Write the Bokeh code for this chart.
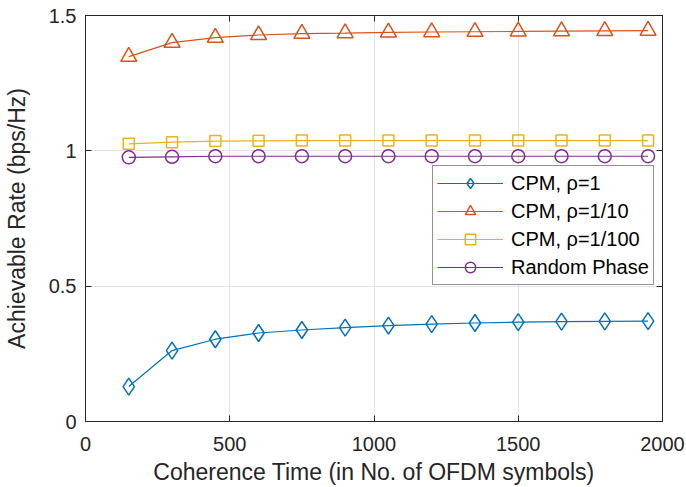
from bokeh.plotting import figure
from bokeh.models import (FixedTicker, Legend, LegendItem, LinearAxis, Range1d)
from bokeh.embed import file_html
from bokeh.resources import INLINE

# ---- data ----
coherence_time = [150, 300, 450, 600, 750, 900, 1050, 1200, 1350, 1500, 1650, 1800, 1950]
rate_rho_1 = [0.129, 0.262, 0.304, 0.327, 0.338, 0.347, 0.354, 0.360, 0.364, 0.367, 0.369, 0.370, 0.371]
rate_rho_1_10 = [1.348, 1.400, 1.418, 1.428, 1.433, 1.435, 1.438, 1.439, 1.440, 1.441, 1.442, 1.443, 1.444]
rate_rho_1_100 = [1.026, 1.032, 1.036, 1.037, 1.038, 1.038, 1.038, 1.038, 1.038, 1.038, 1.038, 1.038, 1.038]
rate_random = [0.976, 0.978, 0.980, 0.980, 0.980, 0.980, 0.980, 0.980, 0.980, 0.980, 0.980, 0.980, 0.980]
series_labels = ["CPM, \u03c1=1", "CPM, \u03c1=1/10", "CPM, \u03c1=1/100", "Random Phase"]
x_ticks = [0, 500, 1000, 1500, 2000]
x_tick_labels = ["0", "500", "1000", "1500", "2000"]
y_ticks = [0, 0.5, 1, 1.5]
y_tick_labels = ["0", "0.5", "1", "1.5"]

FONT = "Liberation Sans"
AX = "#262626"

p = figure(width=686, height=487, output_backend="svg", toolbar_location=None,
           x_range=Range1d(0, 2000), y_range=Range1d(0, 1.5),
           min_border_left=82, min_border_right=24, min_border_top=15, min_border_bottom=64)
p.background_fill_color = "white"
p.border_fill_color = "white"
p.outline_line_color = AX
p.outline_line_width = 1

for ax in (p.xaxis[0], p.yaxis[0]):
    ax.axis_line_color = AX
    ax.major_tick_line_color = AX
    ax.major_tick_in = 6
    ax.major_tick_out = 0
    ax.minor_tick_line_color = None
    ax.major_label_text_font = FONT
    ax.major_label_text_font_size = "20px"
    ax.major_label_text_color = AX
    ax.axis_label_text_font = FONT
    ax.axis_label_text_font_size = "23px"
    ax.axis_label_text_font_style = "normal"
    ax.axis_label_text_color = AX

p.xaxis[0].ticker = FixedTicker(ticks=x_ticks)
p.xaxis[0].major_label_overrides = dict(zip(x_ticks, x_tick_labels))
p.yaxis[0].ticker = FixedTicker(ticks=y_ticks)
p.yaxis[0].major_label_overrides = dict(zip(y_ticks, y_tick_labels))
p.xaxis[0].axis_label = "Coherence Time (in No. of OFDM symbols)"
p.yaxis[0].axis_label = "Achievable Rate (bps/Hz)"
p.xaxis[0].major_label_standoff = 15
p.xaxis[0].axis_label_standoff = 5
p.yaxis[0].major_label_standoff = 9
p.yaxis[0].axis_label_standoff = 16

# mirrored ticks on top and right (no labels)
top = LinearAxis(ticker=FixedTicker(ticks=x_ticks), major_label_text_font_size="1px",
                 major_label_text_color=None,
                 axis_line_color=AX, major_tick_line_color=AX, major_tick_in=6, major_tick_out=0,
                 minor_tick_line_color=None, major_label_standoff=0)
right = LinearAxis(ticker=FixedTicker(ticks=y_ticks), major_label_text_font_size="1px",
                   major_label_text_color=None,
                   axis_line_color=AX, major_tick_line_color=AX, major_tick_in=6, major_tick_out=0,
                   minor_tick_line_color=None, major_label_standoff=0)
p.add_layout(top, "above")
p.add_layout(right, "right")

p.xgrid.ticker = FixedTicker(ticks=x_ticks)
p.ygrid.ticker = FixedTicker(ticks=y_ticks)
p.xgrid.grid_line_color = "#e3e3e3"
p.ygrid.grid_line_color = "#e3e3e3"

colors = ["#0072BD", "#D95319", "#EDB120", "#7E2F8E"]
markers = ["diamond", "triangle", "square", "circle"]
sizes = [17, 16, 11, 13]
ys = [rate_rho_1, rate_rho_1_10, rate_rho_1_100, rate_random]

items = []
for lab, y, c, m, s in zip(series_labels, ys, colors, markers, sizes):
    r1 = p.line(coherence_time, y, line_color=c, line_width=1.2)
    r2 = p.scatter(coherence_time, y, marker=m, size=s, line_color=c, line_width=1.5,
                   fill_alpha=0)
    items.append(LegendItem(label=lab, renderers=[r1, r2]))

legend = Legend(items=items, location=(347, 136))
legend.label_text_font = FONT
legend.label_text_font_size = "20px"
legend.label_text_color = "#000000"
legend.glyph_width = 66
legend.glyph_height = 26
legend.label_height = 26
legend.label_standoff = 8
legend.spacing = 2
legend.padding = 4
legend.margin = 0
legend.border_line_color = AX
legend.border_line_width = 1
legend.background_fill_alpha = 1
p.add_layout(legend, "center")

open("out.html", "w").write(file_html(p, INLINE))
